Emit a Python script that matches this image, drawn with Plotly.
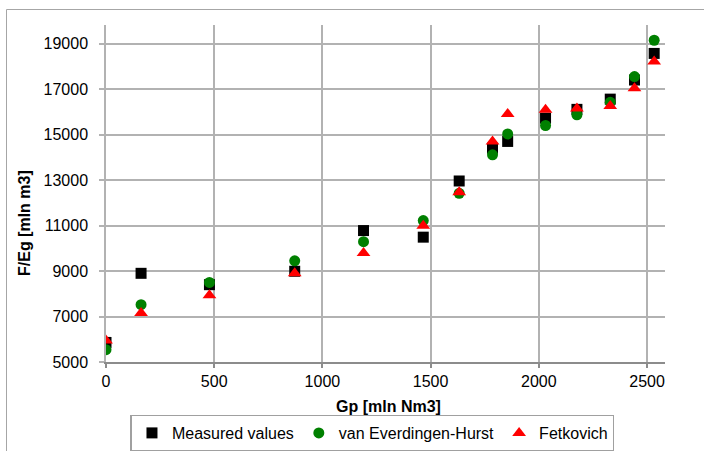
import plotly.graph_objects as go

# Data
gp = [0, 162, 478, 872, 1190, 1466, 1632, 1786, 1856, 2031, 2176, 2330, 2442, 2533]
measured = [5860, 8900, 8400, 8990, 10780, 10490, 12960, 14400, 14700, 15720, 16110, 16560, 17400, 18570]
vanEH = [5540, 7520, 8500, 9450, 10290, 11220, 12420, 14110, 15030, 15400, 15870, 16420, 17550, 19150]
fetkovich = [5950, 7150, 7930, 8900, 9790, 10990, 12470, 14700, 15910, 16090, 16150, 16260, 17040, 18210]

x_ticks = [0, 500, 1000, 1500, 2000, 2500]
x_labels = ["0", "500", "1000", "1500", "2000", "2500"]
y_ticks = [5000, 7000, 9000, 11000, 13000, 15000, 17000, 19000]
y_labels = ["5000", "7000", "9000", "11000", "13000", "15000", "17000", "19000"]

FONT = "Liberation Sans, Arial, sans-serif"
GRID = "#b2b2b2"
AXIS = "#8c8c8c"

fig = go.Figure()
fig.add_trace(go.Scatter(x=gp, y=measured, mode="markers", name="Measured values",
                         marker=dict(symbol="square", size=11, color="#000000")))
fig.add_trace(go.Scatter(x=gp, y=vanEH, mode="markers", name="van Everdingen-Hurst",
                         marker=dict(symbol="circle", size=11, color="#008000")))
fig.add_trace(go.Scatter(x=gp, y=fetkovich, mode="markers", name="Fetkovich",
                         marker=dict(symbol="triangle-up", size=12, color="#ff0000")))

fig.update_layout(
    width=704, height=451,
    margin=dict(l=106, r=39, t=25, b=89),
    paper_bgcolor="white", plot_bgcolor="white",
    font=dict(family=FONT, size=16, color="#000000"),
    showlegend=True,
    legend=dict(orientation="h", x=0.4767, xanchor="center",
                yref="container", y=1 - 433 / 451, yanchor="middle",
                bordercolor="#a0a0a0", borderwidth=1.5, font=dict(size=16),
                itemwidth=30, traceorder="normal"),
    xaxis=dict(range=[0, 2583], tickvals=x_ticks, ticktext=x_labels, showgrid=True,
               gridcolor=GRID, gridwidth=1.5, automargin=False,
               zeroline=False, showline=True, linecolor=AXIS, linewidth=2,
               ticks="outside", ticklen=4, tickcolor=AXIS, tickwidth=1.5,
               tickfont=dict(size=16)),
    yaxis=dict(range=[5000, 19820], tickvals=y_ticks, ticktext=y_labels, showgrid=True,
               gridcolor=GRID, gridwidth=1.5, automargin=False,
               zeroline=False, showline=True, linecolor=GRID, linewidth=1.5,
               ticks="outside", ticklen=5, tickcolor=GRID, tickwidth=1.5,
               ticklabelstandoff=8, tickfont=dict(size=16)),
    annotations=[
        dict(text="<b>Gp [mln Nm3]</b>", xref="paper", yref="paper",
             x=(388 - 106) / 559, y=(362 - 406) / 337, xanchor="center", yanchor="middle",
             showarrow=False, font=dict(size=16)),
        dict(text="<b>F/Eg [mln m3]</b>", xref="paper", yref="paper",
             x=(24 - 106) / 559, y=(362 - 223) / 337, xanchor="center", yanchor="middle",
             textangle=-90, showarrow=False, font=dict(size=16)),
    ],
    shapes=[
        dict(type="rect", xref="paper", yref="paper",
             x0=(6.5 - 106) / 559, x1=(730 - 106) / 559,
             y0=(362 - 480) / 337, y1=(362 - 9.5) / 337,
             line=dict(color="#a6a6a6", width=1), fillcolor="rgba(0,0,0,0)", layer="below"),
    ],
)

fig.write_html("out.html")
